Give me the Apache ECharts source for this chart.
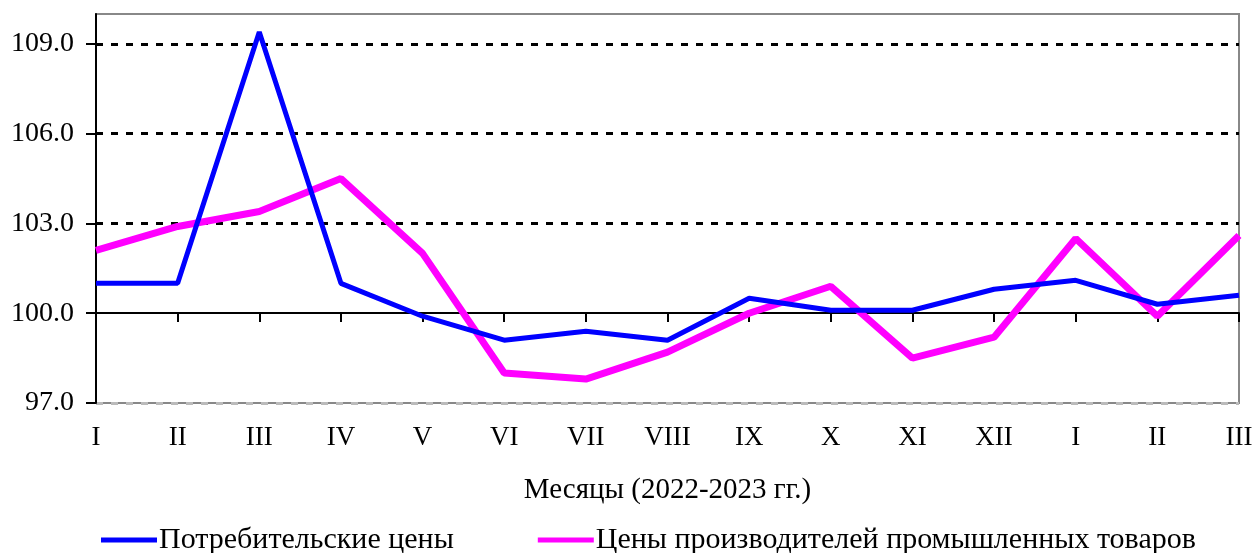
<!DOCTYPE html>
<html>
<head>
<meta charset="utf-8">
<script src="https://cdn.jsdelivr.net/npm/echarts@6/dist/echarts.min.js"></script>
<style>
  html, body { margin: 0; padding: 0; background: #fff; }
  #main { width: 1257px; height: 553px; }
</style>
</head>
<body>
<div id="main"></div>
<script>
// месяцы 2022-2023
const months = ['I','II','III','IV','V','VI','VII','VIII','IX','X','XI','XII','I','II','III']
// потребительские цены
const consumer = [101.0, 101.0, 109.4, 101.0, 99.9, 99.1, 99.4, 99.1, 100.5, 100.1, 100.1, 100.8, 101.1, 100.3, 100.6]
// цены производителей
const producer = [102.1, 102.9, 103.4, 104.5, 102.0, 98.0, 97.8, 98.7, 100.0, 100.9, 98.5, 99.2, 102.5, 99.9, 102.6]
const yTicks = [97, 100, 103, 106, 109]

const font = "'Liberation Serif', 'Times New Roman', serif"

const myChart = echarts.init(document.getElementById('main'))
const option = {
  animation: false,
  textStyle: { fontFamily: font, color: '#000' },
  grid: { left: 96, right: 18, top: 14, bottom: 150, show: true, borderColor: '#888', borderWidth: 2 },
  legend: {
    left: 96,
    top: 520,
    itemWidth: 56,
    itemHeight: 5,
    itemGap: 84,
    textStyle: { fontFamily: font, fontSize: 30, color: '#000', padding: [0, 0, 0, -3] },
    data: [
      { name: 'Потребительские цены', icon: 'rect', itemStyle: { color: '#0000ff' } },
      { name: 'Цены производителей промышленных товаров', icon: 'rect', itemStyle: { color: '#ff00ff' } }
    ]
  },
  xAxis: [
    {
      type: 'category',
      data: months,
      boundaryGap: false,
      axisLine: { show: false },
      axisTick: { show: false },
      axisLabel: { fontFamily: font, fontSize: 27, color: '#000', margin: 21 },
      name: 'Месяцы (2022-2023 гг.)',
      nameLocation: 'middle',
      nameGap: 73,
      nameTextStyle: { fontFamily: font, fontSize: 29, color: '#000' }
    },
    {
      type: 'category',
      data: months,
      boundaryGap: false,
      position: 'bottom',
      offset: -90,
      axisLine: { onZero: false, lineStyle: { color: '#000', width: 2 } },
      axisTick: { show: true, length: 9, lineStyle: { color: '#000', width: 2 } },
      axisLabel: { show: false }
    }
  ],
  yAxis: {
    type: 'value',
    min: 97,
    max: 110,
    interval: 3,
    axisLine: { show: true, lineStyle: { color: '#000', width: 2 } },
    axisTick: { show: true, length: 10, customValues: yTicks, lineStyle: { color: '#000', width: 2 } },
    axisLabel: {
      fontFamily: font, fontSize: 28, color: '#000', margin: 22,
      customValues: yTicks,
      formatter: v => v.toFixed(1)
    },
    splitLine: {
      show: true,
      lineStyle: { color: ['#bbb', 'rgba(0,0,0,0)', '#000', '#000', '#000', '#888'], width: 3, type: [7, 8] }
    }
  },
  series: [
    {
      name: 'Потребительские цены',
      type: 'line',
      data: consumer,
      symbol: 'none',
      lineStyle: { color: '#0000ff', width: 5 },
      itemStyle: { color: '#0000ff' },
      z: 3
    },
    {
      name: 'Цены производителей промышленных товаров',
      type: 'line',
      data: producer,
      symbol: 'none',
      lineStyle: { color: '#ff00ff', width: 7 },
      itemStyle: { color: '#ff00ff' },
      z: 2
    }
  ]
}
myChart.setOption(option)
</script>
</body>
</html>
